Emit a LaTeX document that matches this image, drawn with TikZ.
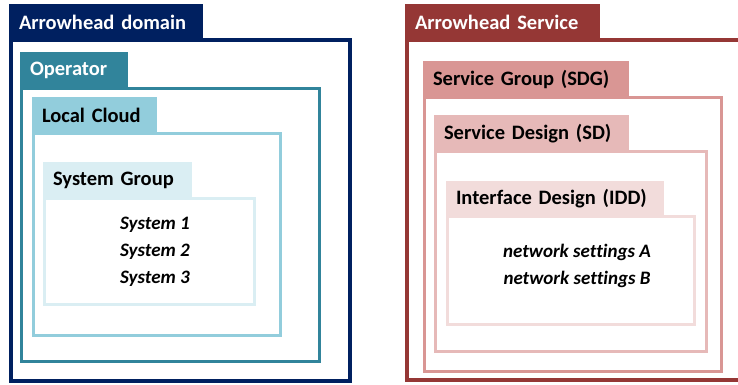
\documentclass[tikz,border=0pt]{standalone}
\usepackage{fontspec}
\setmainfont{Carlito}[Ligatures=NoCommon]
\usepackage{tikz}
\usetikzlibrary{positioning}

\definecolor{adnavy}{HTML}{002060}
\definecolor{opteal}{HTML}{31849B}
\definecolor{lcblue}{HTML}{92CDDC}
\definecolor{sgblue}{HTML}{DAEEF3}
\definecolor{asred}{HTML}{953735}
\definecolor{sdgred}{HTML}{D99694}
\definecolor{sdred}{HTML}{E6B9B8}
\definecolor{iddred}{HTML}{F2DCDB}

\tikzset{
  tabbox/.style={anchor=north west, inner ysep=0pt, inner xsep=10pt, outer sep=0pt,
    font=\fontsize{20.5}{22}\selectfont\bfseries, align=left},
  framebox/.style={anchor=north west, inner sep=0pt, outer sep=0pt, fill=white},
  itemtext/.style={align=center, font=\fontsize{19}{27}\selectfont\bfseries\itshape}
}

\begin{document}
\begin{tikzpicture}[x=1pt, y=-1pt]
  \clip (0,0) rectangle (738,385);
  \useasboundingbox (0,0) rectangle (738,385);
  \fill[white] (0,0) rectangle (738,385);

  % nested folders: name/left/top/tab right/tab bottom/right/bottom/colour/text colour/line width/label
  \foreach \n/\xa/\ya/\xt/\yt/\xb/\yb/\clr/\tc/\lw/\lbl in {
      ad/9/4/203/38/352/383/adnavy/white/4/Arrowhead domain,
      op/20/52/128/87/321/363/opteal/white/3/Operator,
      lc/32/97/157/132/282/337/lcblue/black/3/Local Cloud,
      sg/43/162/192/197/256/306/sgblue/black/3/System Group,
      as/405/4/600/38/770/382/asred/white/4/Arrowhead Service,
      sdg/423/61/629/96/723/373/sdgred/black/3/Service Group (SDG),
      sd/434/115/629/150/708/353/sdred/black/3/Service Design (SD),
      idd/446/181/664/215/696/326/iddred/black/3/Interface Design (IDD)} {
    \pgfmathsetmacro\fw{\xb-\xa-\lw}
    \pgfmathsetmacro\fh{\yb-\yt-\lw}
    \pgfmathsetmacro\tw{\xt-\xa-20}
    \pgfmathsetmacro\th{\yt-\ya+\lw/2}
    \node[framebox, draw=\clr, line width=\lw pt, minimum width=\fw pt, minimum height=\fh pt]
      (\n-frame) at (\xa+\lw/2, \yt+\lw/2) {};
    \node[tabbox, fill=\clr, text=\tc, text width=\tw pt, minimum height=\th pt]
      (\n-tab) at (\xa, \ya) {\lbl};
  }

  \node[itemtext] (systems) at (155,251.5) {System 1\\System 2\\System 3};
  \node[itemtext] (settings) at (577,265.5) {network settings A\\network settings B};
\end{tikzpicture}
\end{document}
